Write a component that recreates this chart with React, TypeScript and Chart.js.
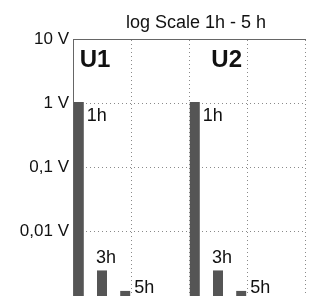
import React, { useEffect, useRef } from "react";
import { Chart, registerables } from "chart.js";

Chart.register(...registerables);

const titleText = "log Scale 1h - 5 h";
const groups = ["U1", "", "U2", ""];
const hours = ["1h", "2h", "3h", "4h", "5h"];
const u1Values: (number | null)[] = [1.05, null, 0.0025, null, 0.0012];
const u2Values: (number | null)[] = [1.05, null, 0.0025, null, 0.0012];
const yTicks = [0.01, 0.1, 1, 10];

const FONT = "'Liberation Sans', Arial, sans-serif";
const labelMode: Record<string, string> = { "1h": "rightBelow", "3h": "above", "5h": "right" };
const groupLabelAt = [-0.12, 2.15];

const fmt = (v: number) => String(v).replace(".", ",") + " V";

export default function App() {
  const ref = useRef<HTMLCanvasElement>(null);
  useEffect(() => {
    const canvas = ref.current!;
    const datasets = hours.map((h, i) => ({
      label: h,
      data: groups.map((g) => (g === "U1" ? u1Values[i] : g === "U2" ? u2Values[i] : null)),
      backgroundColor: "#555555",
      borderWidth: 0,
      categoryPercentage: 1,
      barPercentage: 0.86,
    }));

    const annot = {
      id: "annot",
      afterDatasetsDraw(chart: any) {
        const ctx = chart.ctx;
        const { left, right } = chart.chartArea;
        ctx.save();
        ctx.fillStyle = "#111";
        ctx.font = `18px ${FONT}`;
        ctx.textAlign = "center";
        ctx.textBaseline = "alphabetic";
        ctx.fillText(titleText, (left + right) / 2 + 7, 28);

        const xs = chart.scales.x;
        ctx.font = `bold 24px ${FONT}`;
        ["U1", "U2"].forEach((g, k) => {
          ctx.fillText(g, xs.getPixelForValue(groupLabelAt[k]), 67);
        });

        ctx.font = `18px ${FONT}`;
        chart.data.datasets.forEach((ds: any, di: number) => {
          const mode = labelMode[ds.label];
          if (!mode) return;
          const meta = chart.getDatasetMeta(di);
          meta.data.forEach((bar: any, j: number) => {
            if (ds.data[j] == null) return;
            const { x, y, width } = bar.getProps(["x", "y", "width"], true);
            ctx.textAlign = "left";
            if (mode === "rightBelow") ctx.fillText(ds.label, x + width / 2 + 3, y + 19);
            else if (mode === "above") ctx.fillText(ds.label, x - width / 2 - 1, y - 7);
            else ctx.fillText(ds.label, x + width / 2 + 4, y + 2);
          });
        });
        ctx.restore();
      },
    };

    const chart = new Chart(canvas, {
      type: "bar",
      data: { labels: groups, datasets },
      options: {
        animation: false,
        responsive: false,
        maintainAspectRatio: false,
        layout: { padding: { top: 39, right: 4, left: 0, bottom: 0 } },
        plugins: { legend: { display: false }, tooltip: { enabled: false }, title: { display: false } },
        scales: {
          x: {
            type: "category",
            position: "top",
            offset: true,
            grid: { offset: true, color: "#8a8a8a", drawTicks: false, lineWidth: 1, borderDash: [1, 3] } as any,
            border: { display: true, color: "#666666", width: 1, dash: [1, 3] },
            ticks: { display: false },
            afterFit: (s: any) => { s.height = 0; s.paddingLeft = 0; s.paddingRight = 0; },
          },
          y: {
            type: "logarithmic",
            min: 0.001,
            max: 10,
            afterBuildTicks: (s: any) => { s.ticks = yTicks.map((v) => ({ value: v, major: true })); },
            ticks: {
              callback: (v: any) => fmt(Number(v)),
              font: { family: FONT, size: 17 },
              color: "#111",
              padding: 4,
              autoSkip: false,
            },
            grid: { color: "#8a8a8a", drawTicks: false, lineWidth: 1, borderDash: [1, 3] } as any,
            border: { display: true, color: "#666666", width: 1, dash: [1, 3] },
            afterFit: (s: any) => { s.width = 73; s.paddingTop = 0; s.paddingBottom = 0; },
          },
        },
      },
      plugins: [annot],
    });
    return () => chart.destroy();
  }, []);

  return (
    <div style={{ position: "fixed", left: 0, top: 0, width: 309, height: 296, background: "#fff" }}>
      <canvas ref={ref} width={309} height={296} style={{ display: "block", width: 309, height: 296 }} />
    </div>
  );
}
